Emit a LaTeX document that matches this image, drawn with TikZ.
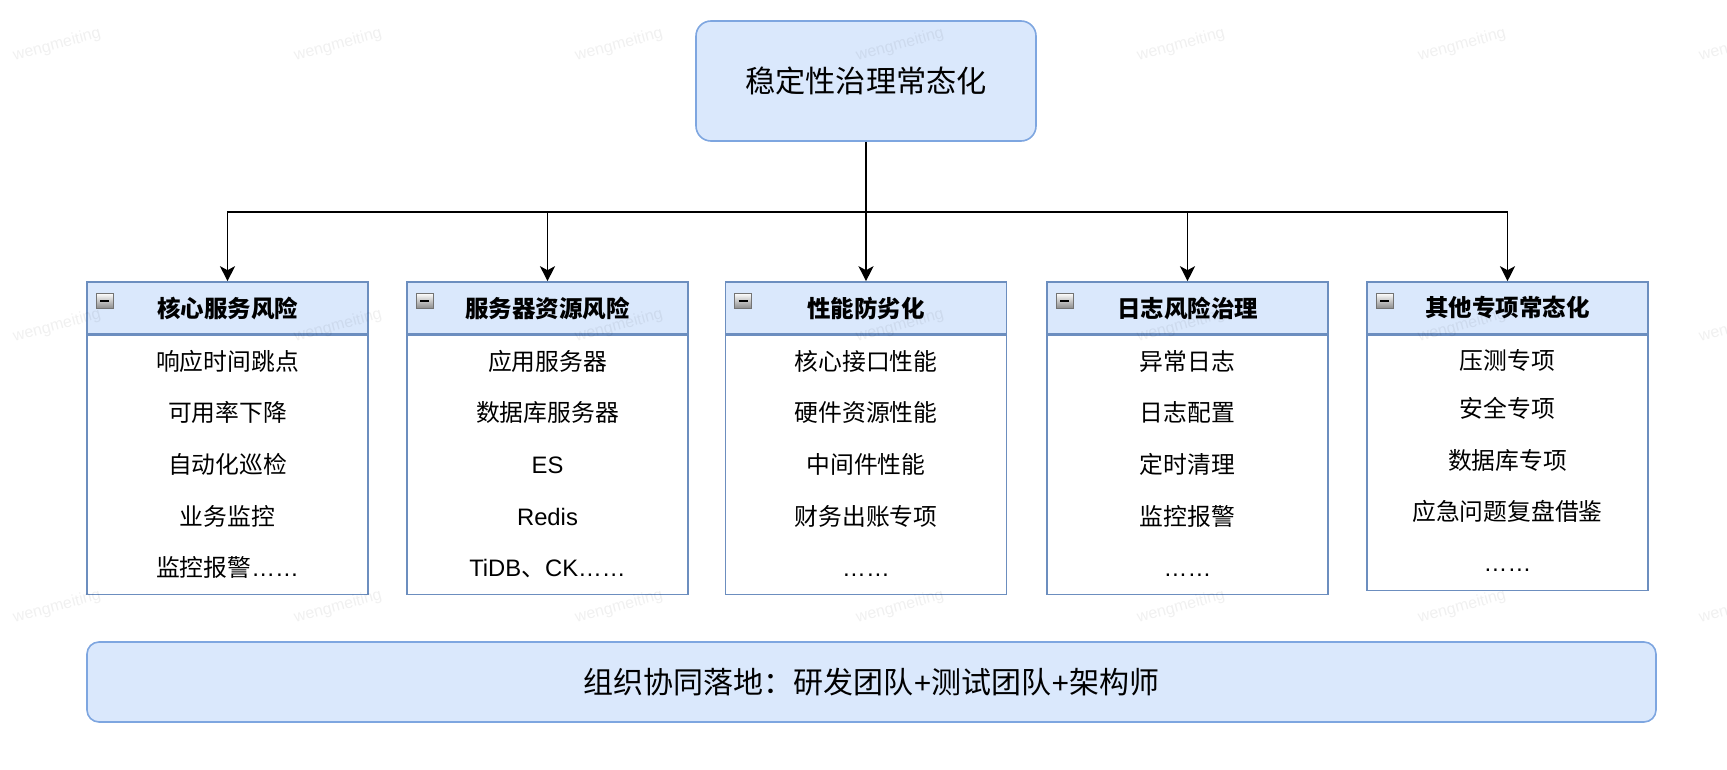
\documentclass[tikz,border=0pt]{standalone}
\usepackage{fontspec}
\setmainfont{Noto Sans CJK SC}
\newfontfamily\lat{Liberation Sans}
\usetikzlibrary{arrows.meta}
\definecolor{bfill}{HTML}{DAE8FC}
\definecolor{bline}{HTML}{6C8EBF}
\definecolor{rline}{HTML}{7EA6E0}
\tikzset{
  roundbox/.style={draw=rline, fill=bfill, line width=1.6pt, rounded corners=15pt, inner sep=0pt},
  headbox/.style={draw=bline, fill=bfill, line width=1.6pt, minimum width=281pt, minimum height=52pt, inner sep=0pt,
    font=\fontsize{23.5}{23.5}\selectfont\bfseries},
  bodybox/.style={draw=bline, fill=white, line width=1.6pt, minimum width=281pt, inner sep=0pt, anchor=north},
  itemtxt/.style={inner sep=0pt, text height=0.8em, text depth=0.04em, yshift=-5pt, font=\fontsize{23.8}{23.8}\selectfont},
  conn/.style={line width=1.6pt, -{Stealth[length=15pt,width=15pt,inset=4pt]}},
  wmark/.style={rotate=15, text=black, opacity=0.06, font=\lat\fontsize{16}{16}\selectfont, inner sep=0pt}
}
\newcommand{\collapseicon}[1]{%
  \shade[top color=white, bottom color=black!45, draw=black!55, line width=0.6pt]
    ([shift={(10pt,-12pt)}]#1.north west) rectangle ([shift={(27pt,-27pt)}]#1.north west);
  \draw[line width=2pt] ([shift={(14pt,-19.5pt)}]#1.north west) -- ([shift={(23pt,-19.5pt)}]#1.north west);
}
\begin{document}
\begin{tikzpicture}[x=1pt,y=-1pt]
\useasboundingbox (0,0) rectangle (1727,770);

% top box
\node[roundbox, minimum width=340pt, minimum height=120pt, font=\fontsize{30.2}{30.2}\selectfont] (top) at (866,81) {稳定性治理常态化};

% headers
\node[headbox] (h1) at (227.5,308) {核心服务风险};
\node[headbox] (h2) at (547.5,308) {服务器资源风险};
\node[headbox] (h3) at (866,308) {性能防劣化};
\node[headbox] (h4) at (1187.5,308) {日志风险治理};
\node[headbox] (h5) at (1507.5,308) {其他专项常态化};

% bodies
\node[bodybox, minimum height=259pt] (b1) at (h1.south) {};
\node[bodybox, minimum height=259pt] (b2) at (h2.south) {};
\node[bodybox, minimum height=259pt] (b3) at (h3.south) {};
\node[bodybox, minimum height=259pt] (b4) at (h4.south) {};
\node[bodybox, minimum height=255pt] (b5) at (h5.south) {};

% icons
\collapseicon{h1}
\collapseicon{h2}
\collapseicon{h3}
\collapseicon{h4}
\collapseicon{h5}

% items column 1
\node[itemtxt] (i11) at (227.5,362) {响应时间跳点};
\node[itemtxt] (i12) at (227.5,413) {可用率下降};
\node[itemtxt] (i13) at (227.5,465) {自动化巡检};
\node[itemtxt] (i14) at (227.5,517) {业务监控};
\node[itemtxt] (i15) at (227.5,568) {监控报警{\lat ……}};
% column 2
\node[itemtxt] (i21) at (547.5,362) {应用服务器};
\node[itemtxt] (i22) at (547.5,413) {数据库服务器};
\node[itemtxt] (i23) at (547.5,465) {\lat ES};
\node[itemtxt] (i24) at (547.5,517) {\lat Redis};
\node[itemtxt] (i25) at (547.5,568) {{\lat TiDB}、{\lat CK……}};
% column 3
\node[itemtxt] (i31) at (866,362) {核心接口性能};
\node[itemtxt] (i32) at (866,413) {硬件资源性能};
\node[itemtxt] (i33) at (866,465) {中间件性能};
\node[itemtxt] (i34) at (866,517) {财务出账专项};
\node[itemtxt] (i35) at (866,568) {\lat ……};
% column 4
\node[itemtxt] (i41) at (1187.5,362) {异常日志};
\node[itemtxt] (i42) at (1187.5,413) {日志配置};
\node[itemtxt] (i43) at (1187.5,465) {定时清理};
\node[itemtxt] (i44) at (1187.5,517) {监控报警};
\node[itemtxt] (i45) at (1187.5,568) {\lat ……};
% column 5
\node[itemtxt] (i51) at (1507.5,361) {压测专项};
\node[itemtxt] (i52) at (1507.5,409) {安全专项};
\node[itemtxt] (i53) at (1507.5,461) {数据库专项};
\node[itemtxt] (i54) at (1507.5,512) {应急问题复盘借鉴};
\node[itemtxt] (i55) at (1507.5,563) {\lat ……};

% bottom box
\node[roundbox, minimum width=1569pt, minimum height=80pt, rounded corners=12pt, font=\fontsize{30}{30}\selectfont] (bot) at (871.5,682) {组织协同落地：研发团队{\lat +}测试团队{\lat +}架构师};

% connectors
\coordinate (jn) at (866,212);
\draw[conn] (top.south) -- (jn) -| (h1.north);
\draw[conn] (jn) -| (h2.north);
\draw[conn] (top.south) -- (h3.north);
\draw[conn] (jn) -| (h4.north);
\draw[conn] (jn) -| (h5.north);

% watermarks
\foreach \wy in {45,326,607}{
  \foreach \wx in {57,338,619,900,1181,1462,1743}{
    \node[wmark] at (\wx,\wy) {wengmeiting};
  }
}
\end{tikzpicture}
\end{document}
